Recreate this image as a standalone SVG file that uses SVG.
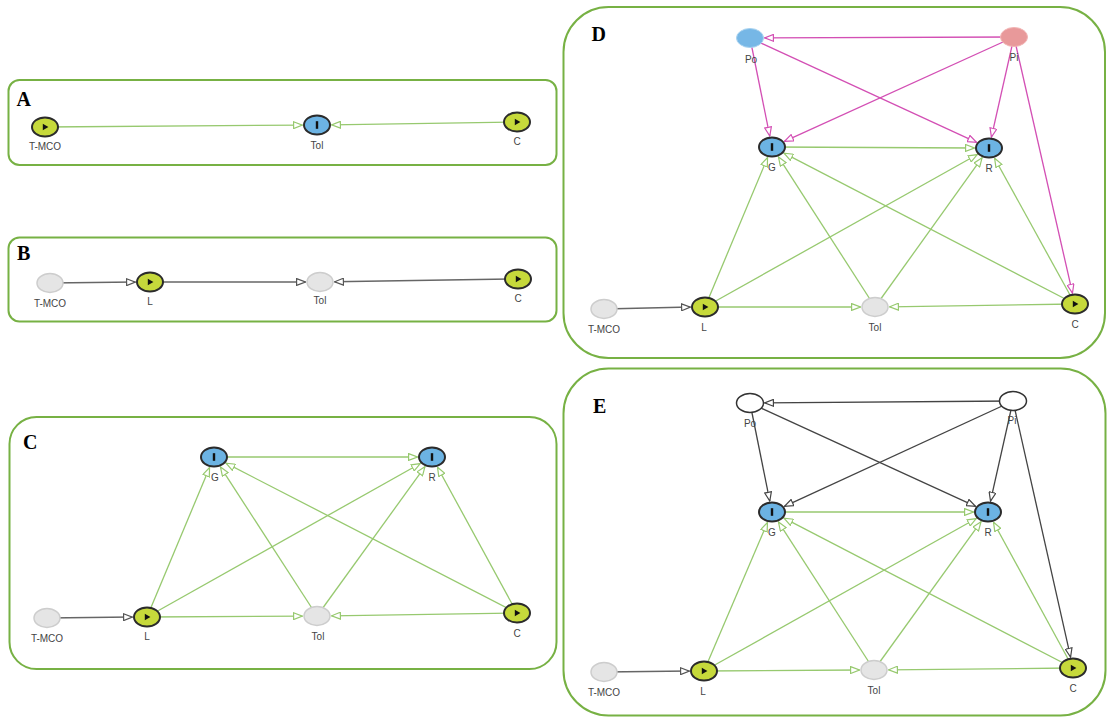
<svg xmlns="http://www.w3.org/2000/svg" xmlns:xlink="http://www.w3.org/1999/xlink" width="1107" height="723" viewBox="0 0 1107 723">
<style>
.panel{fill:none;stroke:#77b144;stroke-width:2}
.plabel{font-family:"Liberation Serif","Times New Roman",serif;font-weight:bold;font-size:20px;fill:#000}
.lbl{font-family:"Liberation Sans",Arial,sans-serif;font-size:10px;fill:#444;text-anchor:middle}
.act{fill:#c6d93b;stroke:#2b2b2b;stroke-width:2}
.inh{fill:#6cb3e3;stroke:#2b2b2b;stroke-width:2}
.off{fill:#e5e5e5;stroke:#cdcdcd;stroke-width:1.5}
.po{fill:#76b7e6;stroke:#a9d3f0;stroke-width:1}
.pi{fill:#e8999a;stroke:#f2b5b5;stroke-width:1}
.wh{fill:#fff;stroke:#333;stroke-width:1.5}
.eg{fill:none;stroke:#97c96f;stroke-width:1.3;marker-end:url(#ag)}
.ek{fill:none;stroke:#666;stroke-width:1.5;marker-end:url(#ak)}
.em{fill:none;stroke:#d34fb4;stroke-width:1.3;marker-end:url(#am)}
.ed{fill:none;stroke:#444;stroke-width:1.3;marker-end:url(#ad)}
</style>
<defs>
<marker id="ag" viewBox="0 0 10 8" refX="9.5" refY="4" markerWidth="10" markerHeight="8" markerUnits="userSpaceOnUse" orient="auto"><path d="M0.6,0.6 L9.4,4 L0.6,7.4 z" fill="#fff" stroke="#97c96f" stroke-width="1.2"/></marker>
<marker id="ak" viewBox="0 0 10 8" refX="9.5" refY="4" markerWidth="10" markerHeight="8" markerUnits="userSpaceOnUse" orient="auto"><path d="M0.6,0.6 L9.4,4 L0.6,7.4 z" fill="#fff" stroke="#555" stroke-width="1.2"/></marker>
<marker id="am" viewBox="0 0 10 8" refX="9.5" refY="4" markerWidth="10" markerHeight="8" markerUnits="userSpaceOnUse" orient="auto"><path d="M0.6,0.6 L9.4,4 L0.6,7.4 z" fill="#fff" stroke="#d34fb4" stroke-width="1.2"/></marker>
<marker id="ad" viewBox="0 0 10 8" refX="9.5" refY="4" markerWidth="10" markerHeight="8" markerUnits="userSpaceOnUse" orient="auto"><path d="M0.6,0.6 L9.4,4 L0.6,7.4 z" fill="#fff" stroke="#444" stroke-width="1.2"/></marker>
<path id="play" d="M-2.2,-3.3 L3.4,0 L-2.2,3.3 z" fill="#111"/>
<rect id="bar" x="-1.2" y="-3.8" width="2.4" height="7.6" fill="#111"/>
</defs>

<g id="panels">
<rect class="panel" x="8.5" y="80" width="548" height="85" rx="11"/>
<rect class="panel" x="8.5" y="237.5" width="548" height="84" rx="11"/>
<rect class="panel" x="9.5" y="417" width="547" height="252" rx="27"/>
<rect class="panel" x="563.5" y="7" width="541.5" height="351" rx="45"/>
<rect class="panel" x="563.5" y="368.5" width="542" height="347" rx="45"/>
<text class="plabel" x="16.5" y="106">A</text>
<text class="plabel" x="17" y="260">B</text>
<text class="plabel" x="23" y="449">C</text>
<text class="plabel" x="591.5" y="41">D</text>
<text class="plabel" x="593" y="413">E</text>
</g>

<g id="connectors">
<!-- A -->
<line class="eg" x1="45" y1="127" x2="302.5" y2="125.1"/>
<line class="eg" x1="517" y1="122" x2="331.5" y2="124.9"/>
<!-- B -->
<line class="ek" x1="50" y1="283" x2="135.5" y2="282.1"/>
<line class="ek" x1="150" y1="282" x2="305.5" y2="282"/>
<line class="ek" x1="518" y1="279" x2="334.5" y2="281.8"/>
<!-- C -->
<line class="ek" x1="47" y1="618" x2="132.5" y2="617.1"/>
<line class="eg" x1="147" y1="617" x2="302.5" y2="616.1"/>
<line class="eg" x1="517" y1="613" x2="331.5" y2="615.8"/>
<line class="eg" x1="214" y1="457" x2="417.5" y2="457"/>
<line class="eg" x1="147" y1="617" x2="209.6" y2="467.5"/>
<line class="eg" x1="147" y1="617" x2="420.3" y2="463.5"/>
<line class="eg" x1="317" y1="616" x2="220.4" y2="466.9"/>
<line class="eg" x1="317" y1="616" x2="425" y2="466.6"/>
<line class="eg" x1="517" y1="613" x2="226" y2="463.2"/>
<line class="eg" x1="517" y1="613" x2="437.5" y2="467.2"/>
<!-- D -->
<line class="em" x1="1014" y1="37" x2="764.5" y2="37.9"/>
<line class="em" x1="750" y1="38" x2="769.8" y2="136.1"/>
<line class="em" x1="750" y1="38" x2="976.6" y2="142.3"/>
<line class="em" x1="1014" y1="37" x2="784.4" y2="141.4"/>
<line class="em" x1="1014" y1="37" x2="991.4" y2="137.2"/>
<line class="em" x1="1014" y1="37" x2="1072.5" y2="293.2"/>
<line class="eg" x1="772" y1="147" x2="974.5" y2="148"/>
<line class="eg" x1="705" y1="307" x2="767.6" y2="157.5"/>
<line class="eg" x1="705" y1="307" x2="977.3" y2="154.5"/>
<line class="eg" x1="705" y1="307" x2="860.5" y2="307"/>
<line class="eg" x1="875" y1="307" x2="778.4" y2="156.9"/>
<line class="eg" x1="875" y1="307" x2="982.1" y2="157.7"/>
<line class="eg" x1="1075" y1="304" x2="784" y2="153.2"/>
<line class="eg" x1="1075" y1="304" x2="994.6" y2="158.2"/>
<line class="eg" x1="1075" y1="304" x2="889.5" y2="306.8"/>
<line class="ek" x1="604" y1="309" x2="690.5" y2="307.1"/>
<!-- E -->
<line class="ed" x1="1013" y1="401" x2="764.5" y2="402.9"/>
<line class="ed" x1="750" y1="403" x2="769.8" y2="501.1"/>
<line class="ed" x1="750" y1="403" x2="975.6" y2="506.3"/>
<line class="ed" x1="1013" y1="401" x2="784.4" y2="506.3"/>
<line class="ed" x1="1013" y1="401" x2="990.5" y2="501.2"/>
<line class="ed" x1="1013" y1="401" x2="1070.6" y2="657.2"/>
<line class="eg" x1="772" y1="512" x2="973.5" y2="512"/>
<line class="eg" x1="704" y1="671" x2="767.5" y2="522.5"/>
<line class="eg" x1="704" y1="671" x2="976.3" y2="518.5"/>
<line class="eg" x1="704" y1="671" x2="859.5" y2="670"/>
<line class="eg" x1="874" y1="670" x2="778.4" y2="521.9"/>
<line class="eg" x1="874" y1="670" x2="981" y2="521.7"/>
<line class="eg" x1="1073" y1="668" x2="784" y2="518.2"/>
<line class="eg" x1="1073" y1="668" x2="993.5" y2="522.2"/>
<line class="eg" x1="1073" y1="668" x2="888.5" y2="669.8"/>
<line class="ek" x1="604" y1="672" x2="689.5" y2="671.1"/>
</g>

<!-- Panel A nodes -->
<g id="A-TMCO"><ellipse class="act" cx="45" cy="127" rx="13" ry="9.5"/><use xlink:href="#play" x="45" y="127"/><text class="lbl" x="45" y="150">T-MCO</text></g>
<g id="A-Tol"><ellipse class="inh" cx="317" cy="125" rx="13" ry="9.5"/><use xlink:href="#bar" x="317" y="125"/><text class="lbl" x="317" y="148.5">Tol</text></g>
<g id="A-C"><ellipse class="act" cx="517" cy="122" rx="13" ry="9.5"/><use xlink:href="#play" x="517" y="122"/><text class="lbl" x="517" y="145">C</text></g>

<!-- Panel B nodes -->
<g id="B-TMCO"><ellipse class="off" cx="50" cy="283" rx="13" ry="9.5"/><text class="lbl" x="50" y="307">T-MCO</text></g>
<g id="B-L"><ellipse class="act" cx="150" cy="282" rx="13" ry="9.5"/><use xlink:href="#play" x="150" y="282"/><text class="lbl" x="150" y="305">L</text></g>
<g id="B-Tol"><ellipse class="off" cx="320" cy="282" rx="13" ry="9.5"/><text class="lbl" x="320" y="303.5">Tol</text></g>
<g id="B-C"><ellipse class="act" cx="518" cy="279" rx="13" ry="9.5"/><use xlink:href="#play" x="518" y="279"/><text class="lbl" x="518" y="302">C</text></g>

<!-- Panel C nodes -->
<g id="C-G"><ellipse class="inh" cx="214" cy="457" rx="13" ry="9.5"/><use xlink:href="#bar" x="214" y="457"/><text class="lbl" x="215" y="481">G</text></g>
<g id="C-R"><ellipse class="inh" cx="432" cy="457" rx="13" ry="9.5"/><use xlink:href="#bar" x="432" y="457"/><text class="lbl" x="432" y="481">R</text></g>
<g id="C-TMCO"><ellipse class="off" cx="47" cy="618" rx="13" ry="9.5"/><text class="lbl" x="47" y="642">T-MCO</text></g>
<g id="C-L"><ellipse class="act" cx="147" cy="617" rx="13" ry="9.5"/><use xlink:href="#play" x="147" y="617"/><text class="lbl" x="147" y="640">L</text></g>
<g id="C-Tol"><ellipse class="off" cx="317" cy="616" rx="13" ry="9.5"/><text class="lbl" x="318" y="640">Tol</text></g>
<g id="C-C"><ellipse class="act" cx="517" cy="613" rx="13" ry="9.5"/><use xlink:href="#play" x="517" y="613"/><text class="lbl" x="517" y="637">C</text></g>

<!-- Panel D nodes -->
<g id="D-Po"><ellipse class="po" cx="750" cy="38" rx="13.5" ry="9.5"/><text class="lbl" x="751" y="63">Po</text></g>
<g id="D-Pi"><ellipse class="pi" cx="1014" cy="37" rx="13.5" ry="9.5"/><text class="lbl" x="1014" y="60.5">Pi</text></g>
<g id="D-G"><ellipse class="inh" cx="772" cy="147" rx="13" ry="9.5"/><use xlink:href="#bar" x="772" y="147"/><text class="lbl" x="772" y="171">G</text></g>
<g id="D-R"><ellipse class="inh" cx="989" cy="148" rx="13" ry="9.5"/><use xlink:href="#bar" x="989" y="148"/><text class="lbl" x="989" y="172">R</text></g>
<g id="D-TMCO"><ellipse class="off" cx="604" cy="309" rx="13" ry="9.5"/><text class="lbl" x="604" y="333">T-MCO</text></g>
<g id="D-L"><ellipse class="act" cx="705" cy="307" rx="13" ry="9.5"/><use xlink:href="#play" x="705" y="307"/><text class="lbl" x="704" y="331">L</text></g>
<g id="D-Tol"><ellipse class="off" cx="875" cy="307" rx="13" ry="9.5"/><text class="lbl" x="875" y="331">Tol</text></g>
<g id="D-C"><ellipse class="act" cx="1075" cy="304" rx="13" ry="9.5"/><use xlink:href="#play" x="1075" y="304"/><text class="lbl" x="1075" y="327.5">C</text></g>

<!-- Panel E nodes -->
<g id="E-Po"><ellipse class="wh" cx="750" cy="403" rx="13.5" ry="9.5"/><text class="lbl" x="750" y="427">Po</text></g>
<g id="E-Pi"><ellipse class="wh" cx="1013" cy="401" rx="13.5" ry="9.5"/><text class="lbl" x="1012" y="423.5">Pi</text></g>
<g id="E-G"><ellipse class="inh" cx="772" cy="512" rx="13" ry="9.5"/><use xlink:href="#bar" x="772" y="512"/><text class="lbl" x="772" y="536">G</text></g>
<g id="E-R"><ellipse class="inh" cx="988" cy="512" rx="13" ry="9.5"/><use xlink:href="#bar" x="988" y="512"/><text class="lbl" x="988" y="536">R</text></g>
<g id="E-TMCO"><ellipse class="off" cx="604" cy="672" rx="13" ry="9.5"/><text class="lbl" x="604" y="696">T-MCO</text></g>
<g id="E-L"><ellipse class="act" cx="704" cy="671" rx="13" ry="9.5"/><use xlink:href="#play" x="704" y="671"/><text class="lbl" x="703" y="695">L</text></g>
<g id="E-Tol"><ellipse class="off" cx="874" cy="670" rx="13" ry="9.5"/><text class="lbl" x="874" y="694">Tol</text></g>
<g id="E-C"><ellipse class="act" cx="1073" cy="668" rx="13" ry="9.5"/><use xlink:href="#play" x="1073" y="668"/><text class="lbl" x="1073" y="692">C</text></g>
</svg>
